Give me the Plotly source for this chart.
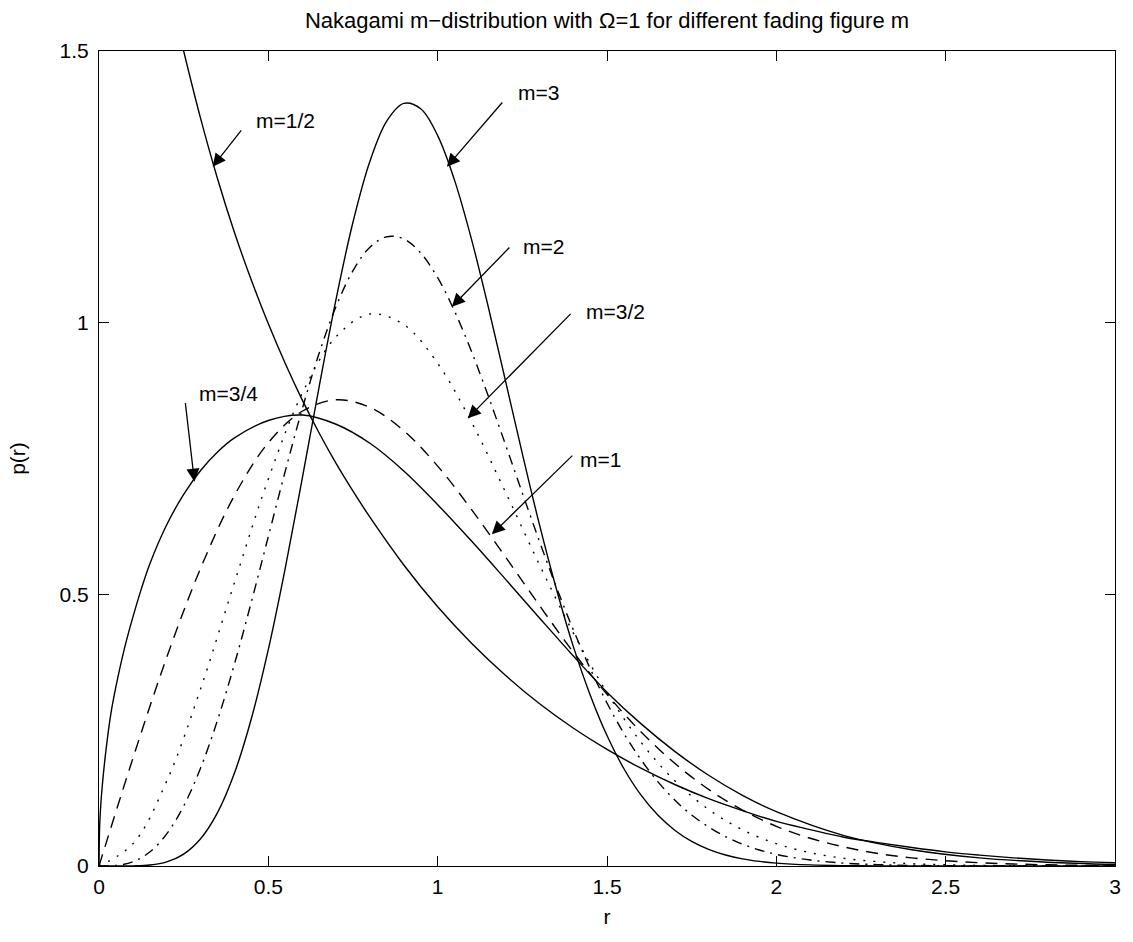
import plotly.graph_objects as go

# Coarse radius grid for the m = 1 and m = 3/2 curves
r_grid = [0.0, 0.1, 0.2, 0.3, 0.4, 0.5, 0.6, 0.7, 0.8, 0.9, 1.0,
          1.1, 1.2, 1.3, 1.4, 1.5, 1.6, 1.7, 1.8, 1.9, 2.0,
          2.1, 2.2, 2.3, 2.4, 2.5, 2.6, 2.7, 2.8, 2.9, 3.0]

# Finer radius grid for the sharper m = 2 and m = 3 curves
r_fine = [0.0, 0.05, 0.1, 0.15, 0.2, 0.25, 0.3, 0.35, 0.4, 0.45,
          0.5, 0.55, 0.6, 0.65, 0.7, 0.75, 0.8, 0.85, 0.9, 0.95,
          1.0, 1.05, 1.1, 1.15, 1.2, 1.25, 1.3, 1.35, 1.4, 1.45,
          1.5, 1.55, 1.6, 1.65, 1.7, 1.75, 1.8, 1.85, 1.9, 1.95,
          2.0, 2.1, 2.2, 2.3, 2.4, 2.5, 2.6, 2.7, 2.8, 2.9, 3.0]

# m = 1 (dashed)
p_m1 = [0.0, 0.198, 0.384, 0.548, 0.682, 0.779, 0.837, 0.858, 0.844, 0.801, 0.736,
        0.656, 0.569, 0.480, 0.394, 0.316, 0.247, 0.189, 0.141, 0.103, 0.073,
        0.051, 0.035, 0.023, 0.015, 0.0097, 0.0060, 0.0037, 0.0022, 0.0013, 0.0007]

# m = 3/2 (dotted)
p_m15 = [0.0, 0.0408, 0.1562, 0.3260, 0.5218, 0.7123, 0.8698, 0.9741, 1.0159, 0.9964, 0.9251,
         0.8169, 0.6885, 0.5553, 0.4296, 0.3192, 0.2281, 0.1570, 0.1041, 0.0666, 0.0411,
         0.0245, 0.0141, 0.0079, 0.0042, 0.0022, 0.0011, 0.0005, 0.0002, 0.0001, 0.0]

# m = 2 (dash-dot)
p_m2 = [0.0, 0.0010, 0.0078, 0.0258, 0.0591, 0.1103, 0.1804, 0.2685, 0.3718, 0.4862,
        0.6065, 0.7268, 0.8411, 0.9437, 1.0298, 1.0957, 1.1389, 1.1582, 1.1542, 1.1281,
        1.0827, 1.0210, 0.9468, 0.8639, 0.7759, 0.6866, 0.5985, 0.5141, 0.4355, 0.3639,
        0.3000, 0.2439, 0.1960, 0.1552, 0.1215, 0.0938, 0.0719, 0.0539, 0.0402, 0.0295,
        0.0214, 0.0110, 0.0053, 0.0025, 0.0011, 0.0005, 0.0002, 0.0001, 0.0, 0.0, 0.0]

# m = 3 (solid)
p_m3 = [0.0, 0.0, 0.0003, 0.0019, 0.0077, 0.0219, 0.0501, 0.0982, 0.1711, 0.2714,
        0.3986, 0.5484, 0.7130, 0.8819, 1.0434, 1.1852, 1.2971, 1.3714, 1.4036, 1.3937,
        1.3443, 1.2619, 1.1532, 1.0275, 0.8936, 0.7589, 0.6296, 0.5111, 0.4051, 0.3154,
        0.2401, 0.1790, 0.1308, 0.0937, 0.0659, 0.0453, 0.0307, 0.0203, 0.0132, 0.0085,
        0.0053, 0.0020, 0.0007, 0.0002, 0.0001, 0.0, 0.0, 0.0, 0.0, 0.0, 0.0]

# m = 3/4 (solid)
r_m34 = [0.0, 0.002, 0.005, 0.01, 0.02, 0.035, 0.05, 0.075, 0.1, 0.125, 0.15, 0.2, 0.25, 0.3, 0.35, 0.4,
         0.5, 0.6, 0.7, 0.8, 0.9, 1.0, 1.1, 1.2, 1.3, 1.4, 1.5, 1.6, 1.7, 1.8, 1.9, 2.0,
         2.2, 2.4, 2.6, 2.8, 3.0]
p_m34 = [0.0, 0.075, 0.11, 0.15, 0.21, 0.28, 0.33, 0.40, 0.458, 0.510, 0.556, 0.628, 0.684, 0.728, 0.762, 0.788,
         0.820, 0.830, 0.813, 0.778, 0.727, 0.665, 0.598, 0.528, 0.457, 0.387, 0.320, 0.262, 0.211, 0.167, 0.130, 0.100,
         0.056, 0.030, 0.015, 0.007, 0.003]

# m = 1/2 (solid)
r_m12 = [0.22, 0.25, 0.3, 0.35, 0.4, 0.45, 0.5, 0.55, 0.6, 0.65, 0.7, 0.75, 0.8,
         0.9, 1.0, 1.1, 1.2, 1.3, 1.4, 1.5, 1.6, 1.7, 1.8, 1.9, 2.0,
         2.1, 2.2, 2.3, 2.4, 2.5, 2.6, 2.7, 2.8, 2.9, 3.0]
p_m12 = [1.58, 1.50, 1.376, 1.265, 1.166, 1.078, 0.998, 0.925, 0.858, 0.797, 0.741, 0.690, 0.642,
         0.554, 0.477, 0.410, 0.351, 0.299, 0.254, 0.2145, 0.180, 0.150, 0.124, 0.102, 0.082,
         0.067, 0.053, 0.043, 0.034, 0.026, 0.020, 0.015, 0.011, 0.008, 0.006]

x_ticks = [0, 0.5, 1, 1.5, 2, 2.5, 3]
y_ticks = [0, 0.5, 1, 1.5]

FONT = "Liberation Sans, Arial, Helvetica, sans-serif"

series = [
    (r_m12, p_m12, "solid"),
    (r_m34, p_m34, "solid"),
    (r_grid, p_m1, "12px,8px"),
    (r_grid, p_m15, "2px,8px"),
    (r_fine, p_m2, "10px,6px,2px,6px"),
    (r_fine, p_m3, "solid"),
]

fig = go.Figure()
for xs, ys, dash in series:
    fig.add_trace(go.Scatter(
        x=xs, y=ys, mode="lines",
        line=dict(color="black", width=1.4, dash=dash, shape="spline", smoothing=1.0),
        hoverinfo="skip",
    ))

# Curve labels: (text, text x, text y, arrow tail x, tail y, arrow head x, head y)
labels = [
    ("m=1/2", 0.457, 1.373, 0.4235, 1.3565, 0.3355, 1.287),
    ("m=3",   1.230, 1.423, 1.1946, 1.408, 1.0273, 1.287),
    ("m=2",   1.247, 1.140, 1.216, 1.141, 1.042, 1.0295),
    ("m=3/2", 1.432, 1.020, 1.397, 1.019, 1.089, 0.824),
    ("m=1",   1.415, 0.749, 1.402, 0.758, 1.160, 0.6105),
    ("m=3/4", 0.290, 0.870, 0.2545, 0.8546, 0.2818, 0.7074),
]
for text, tx, ty, ax, ay, hx, hy in labels:
    fig.add_annotation(
        x=hx, y=hy, ax=ax, ay=ay, xref="x", yref="y", axref="x", ayref="y",
        text="", showarrow=True, arrowhead=2, arrowsize=2.0, arrowwidth=1.3,
        arrowcolor="black", standoff=0, startstandoff=0,
    )
    fig.add_annotation(
        x=tx, y=ty, xref="x", yref="y", text=text, showarrow=False,
        xanchor="left", yanchor="middle", font=dict(family=FONT, size=21, color="black"),
    )

axis_common = dict(
    showline=True, linecolor="black", linewidth=1, mirror="ticks",
    ticks="inside", ticklen=10, tickwidth=1, tickcolor="black",
    showgrid=False, zeroline=False,
    tickfont=dict(family=FONT, size=21, color="black"),
)

fig.update_layout(
    width=1133, height=942,
    margin=dict(l=99, r=13, t=51, b=76),
    paper_bgcolor="white", plot_bgcolor="white",
    showlegend=False,
    font=dict(family=FONT, color="black"),
    title=dict(
        text="Nakagami m\u2212distribution with \u03a9=1 for different fading figure m",
        x=0.5, xref="paper", xanchor="center",
        y=1 - 20 / 942, yref="container", yanchor="middle",
        font=dict(family=FONT, size=22, color="black"),
    ),
    xaxis=dict(range=[0, 3], tickvals=x_ticks, ticklabelstandoff=2,
               title=dict(text="r", standoff=12, font=dict(family=FONT, size=21, color="black")),
               **axis_common),
    yaxis=dict(range=[0, 1.5], tickvals=y_ticks, ticklabelstandoff=5,
               title=dict(text="p(r)", standoff=28, font=dict(family=FONT, size=21, color="black")),
               **axis_common),
)

fig.write_html("out.html")
